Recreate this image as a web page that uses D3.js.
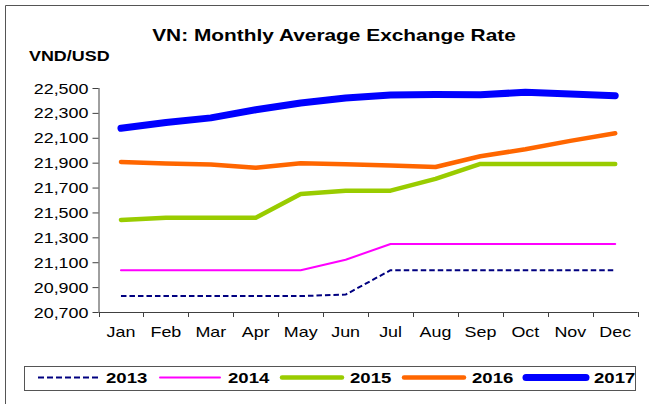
<!DOCTYPE html>
<html>
<head>
<meta charset="utf-8">
<script src="https://cdn.jsdelivr.net/npm/d3@7"></script>
<style>
  body { margin: 0; background: #fff; }
  svg text { font-family: "Liberation Sans", Arial, Helvetica, sans-serif; fill: #000; }
</style>
</head>
<body>
<svg id="chart" width="649" height="404"></svg>
<script>
// Monthly average VND/USD rates
const months = ["Jan", "Feb", "Mar", "Apr", "May", "Jun", "Jul", "Aug", "Sep", "Oct", "Nov", "Dec"];
const years = ["2013", "2014", "2015", "2016", "2017"];
const rate2013 = [20828, 20828, 20828, 20828, 20828, 20840, 21036, 21036, 21036, 21036, 21036, 21036];
const rate2014 = [21036, 21036, 21036, 21036, 21036, 21120, 21246, 21246, 21246, 21246, 21246, 21246];
const rate2015 = [21440, 21458, 21458, 21458, 21648, 21675, 21675, 21770, 21890, 21890, 21890, 21890];
const rate2016 = [21905, 21893, 21885, 21860, 21895, 21887, 21878, 21865, 21952, 22008, 22075, 22136];
const rate2017 = [22176, 22223, 22260, 22325, 22380, 22420, 22443, 22447, 22445, 22466, 22452, 22438];
const yTicks = [20700, 20900, 21100, 21300, 21500, 21700, 21900, 22100, 22300, 22500];

const seriesValues = [rate2013, rate2014, rate2015, rate2016, rate2017];

// line appearance per year
const styles = {
  "2013": { color: "#000080", width: 2,   dash: "5.5,3" },
  "2014": { color: "#FF00FF", width: 2,   dash: null },
  "2015": { color: "#99CC00", width: 4.5, dash: null },
  "2016": { color: "#FF6600", width: 4.5, dash: null },
  "2017": { color: "#0000FF", width: 7,   dash: null }
};

const SX = 1.28; // horizontal text stretch of this chart's typography

const svg = d3.select("#chart");

// outer frame (top and left edges visible)
svg.append("path")
  .attr("d", "M5.5,404 L5.5,5.5 L649,5.5")
  .attr("fill", "none")
  .attr("stroke", "#555")
  .attr("stroke-width", 1);

const plot = { left: 98.5, right: 637.7, top: 88, bottom: 312 };

const x = d3.scaleBand().domain(months).range([plot.left, plot.right]).padding(0);
const y = d3.scaleLinear().domain([20700, 22500]).range([plot.bottom, plot.top]);

function stretchedText(sel, px, py, txt) {
  return sel.append("text")
    .attr("transform", `translate(${px},${py}) scale(${SX},1)`)
    .text(txt);
}

// title and unit label
stretchedText(svg, 334, 41, "VN: Monthly Average Exchange Rate")
  .attr("text-anchor", "middle")
  .style("font-size", "16.3px")
  .style("font-weight", "bold");

stretchedText(svg, 29, 61, "VND/USD")
  .style("font-size", "14px")
  .style("font-weight", "bold");

// y axis
const yAxis = svg.append("g")
  .attr("transform", `translate(${plot.left},0)`)
  .call(d3.axisLeft(y).tickValues(yTicks).tickSize(6).tickPadding(0)
    .tickFormat(d3.format(",")));
yAxis.selectAll("path, line").attr("stroke", "#404040");
yAxis.select(".domain").attr("d", `M0.5,${plot.top}V${plot.bottom}`);
yAxis.selectAll("text")
  .attr("x", null)
  .attr("dy", null)
  .attr("transform", `translate(-10,5) scale(${SX},1)`)
  .style("font-size", "14px")
  .style("font-family", "'Liberation Sans', Arial, sans-serif")
  .attr("fill", "#000");

// x axis with ticks at band edges
const xAxisG = svg.append("g").attr("transform", `translate(0,${plot.bottom})`);
xAxisG.append("line")
  .attr("x1", plot.left).attr("x2", plot.right)
  .attr("y1", 0.5).attr("y2", 0.5)
  .attr("stroke", "#404040");
const edges = months.map(m => x(m)).concat([x(months[months.length - 1]) + x.bandwidth()]);
xAxisG.selectAll("line.tick").data(edges).join("line")
  .attr("class", "tick")
  .attr("x1", d => Math.round(d) + 0.5).attr("x2", d => Math.round(d) + 0.5)
  .attr("y1", 0).attr("y2", 5)
  .attr("stroke", "#404040");
xAxisG.selectAll("text").data(months).join("text")
  .attr("text-anchor", "middle")
  .attr("transform", d => `translate(${x(d) + x.bandwidth() / 2},24.5) scale(${SX},1)`)
  .style("font-size", "14px")
  .text(d => d);

// series lines
const line = d3.line()
  .x((d, i) => x(months[i]) + x.bandwidth() / 2)
  .y(d => y(d));

years.forEach((yr, k) => {
  const st = styles[yr];
  svg.append("path")
    .datum(seriesValues[k])
    .attr("d", line)
    .attr("fill", "none")
    .attr("stroke", st.color)
    .attr("stroke-width", st.width)
    .attr("stroke-linejoin", "round")
    .attr("stroke-linecap", st.dash ? "butt" : "round")
    .attr("stroke-dasharray", st.dash);
});

// legend
const legend = svg.append("g");
legend.append("rect")
  .attr("x", 24.5).attr("y", 366.5)
  .attr("width", 611).attr("height", 24)
  .attr("fill", "#fff")
  .attr("stroke", "#555");

const legendX = d3.scalePoint().domain(years).range([38, 526]);
years.forEach(yr => {
  const st = styles[yr];
  const lx = legendX(yr);
  legend.append("line")
    .attr("x1", lx).attr("x2", lx + 60)
    .attr("y1", 377.5).attr("y2", 377.5)
    .attr("stroke", st.color)
    .attr("stroke-width", st.width)
    .attr("stroke-linecap", st.dash ? "butt" : "round")
    .attr("stroke-dasharray", st.dash ? "6,3" : null);
  stretchedText(legend, lx + 68, 383.3, yr)
    .style("font-size", "14.5px")
    .style("font-weight", "bold");
});
</script>
</body>
</html>
